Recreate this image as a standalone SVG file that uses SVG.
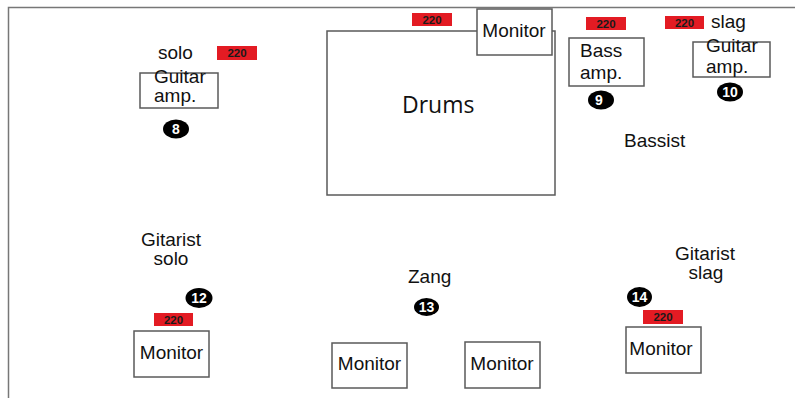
<svg xmlns="http://www.w3.org/2000/svg" width="795" height="398" viewBox="0 0 795 398">
<style>
.bx{fill:#fff;stroke:#5a5a5a;stroke-width:1.5}
.t{font-family:"Liberation Sans",Arial,sans-serif;font-size:19px;fill:#111}
.c{text-anchor:middle}
.red{fill:#e31b23}
.v{font-family:"Liberation Sans",Arial,sans-serif;font-size:11.5px;font-weight:bold;fill:#1a1a1a;text-anchor:middle}
.dot{fill:#000}
.n{font-family:"Liberation Sans",Arial,sans-serif;font-size:14px;font-weight:bold;fill:#fff;text-anchor:middle}
.edge{fill:none;stroke:#777;stroke-width:1.5}
</style>
<g id="connectors">
<path class="edge" d="M8.5 398 V7.5 H795"/>
</g>
<g id="drums">
<rect class="bx" x="327" y="31" width="228" height="164"/>
<text x="402" y="113" style="font-family:'Open Sans','Noto Sans',sans-serif;font-size:23px;fill:#111">Drums</text>
</g>
<g id="monitor-drums">
<rect class="bx" x="477" y="9" width="75" height="46"/>
<text class="t c" x="514" y="37">Monitor</text>
</g>
<g id="power-drums">
<rect class="red" x="412" y="13" width="40" height="13"/>
<text class="v" x="432" y="23.5">220</text>
</g>
<g id="solo-label">
<text class="t" x="158" y="59">solo</text>
</g>
<g id="power-solo-amp">
<rect class="red" x="217" y="46" width="40" height="14"/>
<text class="v" x="237" y="57">220</text>
</g>
<g id="guitar-amp-solo">
<rect class="bx" x="140" y="73" width="78" height="35"/>
<text class="t" x="154" y="83">Guitar</text>
<text class="t" x="154" y="102">amp.</text>
</g>
<g id="n8">
<ellipse class="dot" cx="176" cy="129" rx="13" ry="9.5"/>
<text class="n" x="176" y="134">8</text>
</g>
<g id="power-bass">
<rect class="red" x="586" y="17" width="40" height="13"/>
<text class="v" x="606" y="27.5">220</text>
</g>
<g id="bass-amp">
<rect class="bx" x="569" y="38" width="75" height="48"/>
<text class="t" x="580" y="57">Bass</text>
<text class="t" x="580" y="79">amp.</text>
</g>
<g id="n9">
<ellipse class="dot" cx="601" cy="100" rx="13" ry="9.5"/>
<text class="n" x="599" y="105">9</text>
</g>
<g id="power-slag-amp">
<rect class="red" x="665" y="16" width="39" height="13"/>
<text class="v" x="684.5" y="26.5">220</text>
</g>
<g id="slag-label">
<text class="t" x="711" y="28">slag</text>
</g>
<g id="guitar-amp-slag">
<rect class="bx" x="693" y="42" width="77" height="35"/>
<text class="t" x="706" y="52">Guitar</text>
<text class="t" x="706" y="73">amp.</text>
</g>
<g id="n10">
<ellipse class="dot" cx="730" cy="92" rx="13" ry="9.5"/>
<text class="n" x="730" y="97">10</text>
</g>
<g id="bassist">
<text class="t" x="624" y="147">Bassist</text>
</g>
<g id="gitarist-solo">
<text class="t c" x="171" y="246">Gitarist</text>
<text class="t c" x="171" y="265">solo</text>
</g>
<g id="n12">
<ellipse class="dot" cx="199" cy="298" rx="13.5" ry="10"/>
<text class="n" x="199" y="303">12</text>
</g>
<g id="power-monitor-solo">
<rect class="red" x="154" y="313" width="39" height="13"/>
<text class="v" x="173.5" y="323.5">220</text>
</g>
<g id="monitor-solo">
<rect class="bx" x="134" y="331" width="75" height="46"/>
<text class="t c" x="171.5" y="359">Monitor</text>
</g>
<g id="zang">
<text class="t" x="408" y="283">Zang</text>
</g>
<g id="n13">
<ellipse class="dot" cx="426.5" cy="307" rx="12.5" ry="9"/>
<text class="n" x="426.5" y="312">13</text>
</g>
<g id="monitor-zang-1">
<rect class="bx" x="332" y="343" width="75" height="45"/>
<text class="t c" x="369.5" y="370">Monitor</text>
</g>
<g id="monitor-zang-2">
<rect class="bx" x="465" y="342" width="75" height="46"/>
<text class="t c" x="502" y="370">Monitor</text>
</g>
<g id="gitarist-slag">
<text class="t c" x="705" y="260">Gitarist</text>
<text class="t c" x="706" y="279">slag</text>
</g>
<g id="n14">
<ellipse class="dot" cx="639.5" cy="297" rx="12.5" ry="10"/>
<text class="n" x="639.5" y="302">14</text>
</g>
<g id="power-monitor-slag">
<rect class="red" x="643" y="310" width="40" height="14"/>
<text class="v" x="663" y="321">220</text>
</g>
<g id="monitor-slag">
<rect class="bx" x="626" y="327" width="75" height="46"/>
<text class="t c" x="661" y="355">Monitor</text>
</g>
</svg>
